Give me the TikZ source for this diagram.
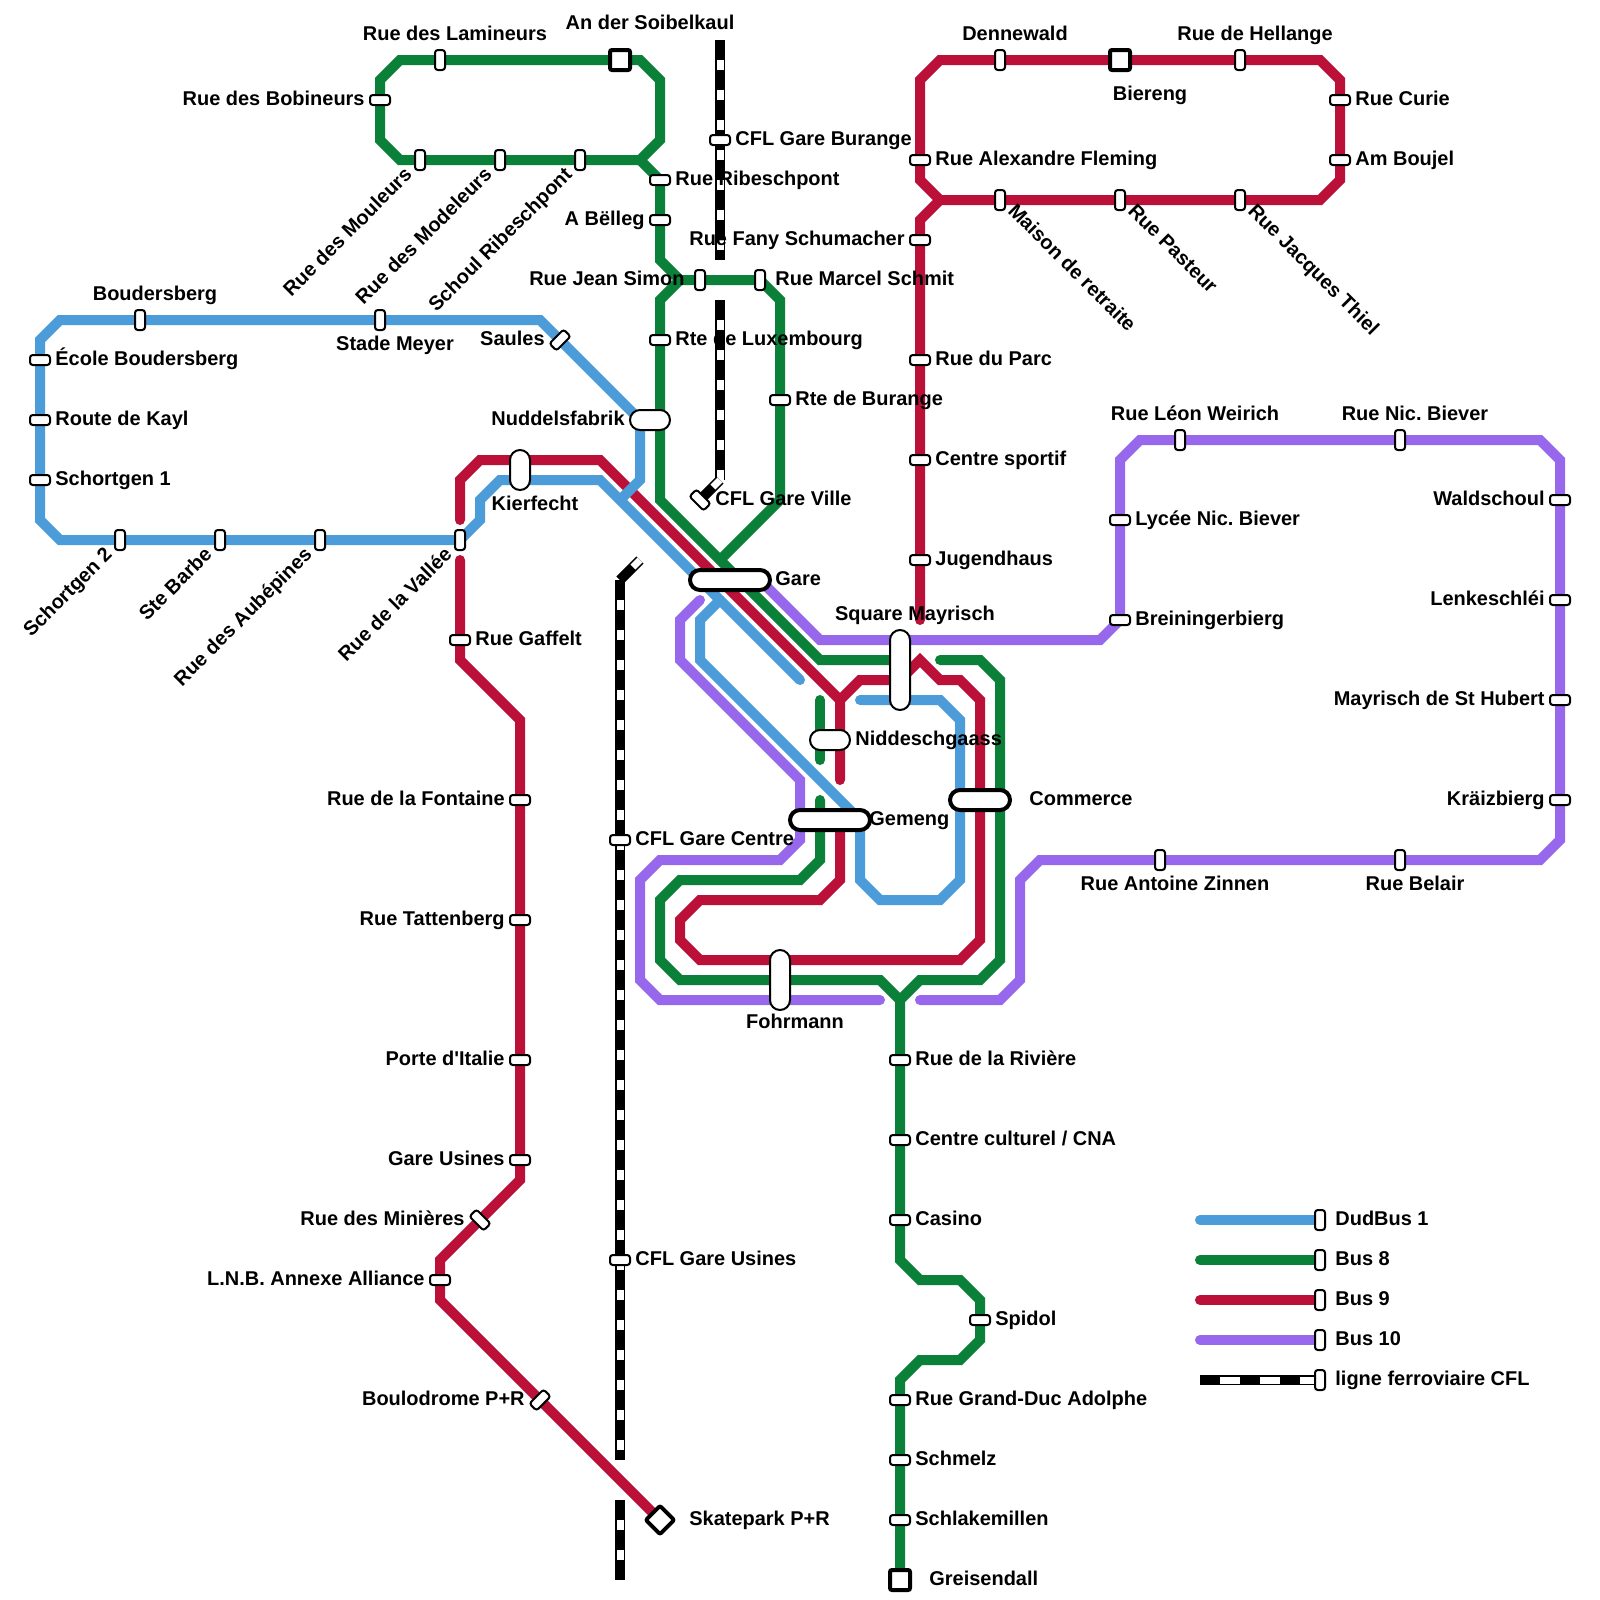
\documentclass[tikz,border=0pt]{standalone}
\usepackage{fontspec}
\setmainfont{Liberation Sans}[Ligatures=TeXOff]
\frenchspacing
\definecolor{dudbus}{HTML}{4B9CD8}
\definecolor{buseight}{HTML}{0A8038}
\definecolor{busnine}{HTML}{BB1038}
\definecolor{busten}{HTML}{9868EC}
\tikzset{
  busline/.style={line width=.25cm,line cap=round},
  rail/.style={line width=.25cm,black,postaction={draw,white,line width=.175cm,dash pattern=on .25cm off .5cm,dash phase=.25cm}},
  railtip/.style={line width=.25cm,black,postaction={draw,white,line width=.175cm,dash pattern=on .25cm off .5cm}},
  raillegend/.style={line width=.25cm,black,postaction={draw,white,line width=.175cm,dash pattern=on .5cm off .5cm,dash phase=.5cm}},
  stoph/.style={draw,fill=white,line width=.05cm,minimum width=.5cm,minimum height=.25cm,rounded corners=.07cm,inner sep=0,outer sep=0},
  stopv/.style={stoph,minimum width=.25cm,minimum height=.5cm},
  hubh/.style={draw,fill=white,line width=.05cm,minimum height=.5cm,rounded corners=.25cm,inner sep=0,outer sep=0},
  hubv/.style={draw,fill=white,line width=.05cm,minimum width=.5cm,rounded corners=.25cm,inner sep=0,outer sep=0},
  bighub/.style={hubh,line width=.1cm},
  endstop/.style={draw,fill=white,line width=.1cm,minimum size=.5cm,rounded corners=.05cm,inner sep=0,outer sep=0},
  lbl/.style={font=\fontsize{14.2pt}{16pt}\selectfont\bfseries,inner sep=0,outer sep=0},
  lblr/.style={lbl,anchor=base west,xshift=.385cm,yshift=-.125cm},
  lbll/.style={lbl,anchor=base east,xshift=-.385cm,yshift=-.125cm},
  lbla/.style={lbl,anchor=base,xshift=.375cm,yshift=.5cm},
  lblb/.style={lbl,anchor=base,xshift=.375cm,yshift=-.75cm},
  lblup/.style={lbl,anchor=base east,xshift=-.175cm,yshift=-.4cm,rotate=45},
  lbldn/.style={lbl,anchor=base west,xshift=.175cm,yshift=-.3cm,rotate=-45},
}
\begin{document}
\begin{tikzpicture}[x=.5cm,y=-.5cm]
  \path[use as bounding box,fill=white] (0,0) rectangle (80,80);
  % bus 9
  \draw[busline,busnine] (33,76) -- (22,65) -- (22,63) -- (26,59) -- (26,36) -- (23,33) -- (23,28);
  \draw[busline,busnine] (23,26) -- (23,24) -- (24,23) -- (30,23) -- (42,35) -- (42,39);
  \draw[busline,busnine] (42,41) -- (42,44) -- (41,45) -- (35,45) -- (34,46) -- (34,47) -- (35,48) -- (48,48) -- (49,47) -- (49,35) -- (48,34) -- (47,34) -- (46,33) -- (45,34) -- (43,34) -- (42,35);
  \draw[busline,busnine] (47,3) -- (66,3) -- (67,4) -- (67,9) -- (66,10) -- (47,10) -- (46,9) -- (46,4) -- cycle;
  \draw[busline,busnine] (47,10) -- (46,11) -- (46,31);
  % bus 8
  \draw[busline,buseight] (20,3) -- (32,3) -- (33,4) -- (33,7) -- (32,8) -- (20,8) -- (19,7) -- (19,4) -- cycle;
  \draw[busline,buseight] (32,8) -- (33,9) -- (33,13) -- (34,14) -- (38,14) -- (39,15) -- (39,25) -- (36,28);
  \draw[busline,buseight] (34,14) -- (33,15) -- (33,25) -- (41,33) -- (45,33);
  \draw[busline,buseight] (47,33) -- (49,33) -- (50,34) -- (50,48) -- (49,49) -- (46,49) -- (45,50) -- (45,63) -- (46,64) -- (48,64) -- (49,65) -- (49,67) -- (48,68) -- (46,68) -- (45,69) -- (45,79);
  \draw[busline,buseight] (45,50) -- (44,49) -- (34,49) -- (33,48) -- (33,45) -- (34,44) -- (40,44) -- (41,43) -- (41,40);
  \draw[busline,buseight] (41,35) -- (41,38);
  % bus 10
  \draw[busline,busten] (44,50) -- (33,50) -- (32,49) -- (32,44) -- (33,43) -- (39,43) -- (40,42) -- (40,39) -- (34,33) -- (34,31) -- (35,30);
  \draw[busline,busten] (46,50) -- (50,50) -- (51,49) -- (51,44) -- (52,43) -- (77,43) -- (78,42) -- (78,23) -- (77,22) -- (57,22) -- (56,23) -- (56,31) -- (55,32) -- (41,32) -- (38,29);
  % dudbus
  \draw[busline,dudbus] (31,25) -- (32,24) -- (32,21) -- (27,16) -- (3,16) -- (2,17) -- (2,26) -- (3,27) -- (23,27) -- (24,26) -- (24,25) -- (25,24) -- (30,24) -- (40,34);
  \draw[busline,dudbus] (36,30) -- (35,31) -- (35,33) -- (43,41) -- (43,44) -- (44,45) -- (47,45) -- (48,44) -- (48,36) -- (47,35) -- (43,35);
  % rail
  \draw[rail] (36,2) -- (36,13);
  \draw[rail] (36,15) -- (36,24);
  \draw[railtip] (36,24) -- (35,25);
  \draw[railtip] (32,28) -- (31,29);
  \draw[rail] (31,29) -- (31,73);
  \draw[rail] (31,75) -- (31,79);
  % legend
  \draw[busline,dudbus] (60,61) -- (66,61);
  \draw[busline,buseight] (60,63) -- (66,63);
  \draw[busline,busnine] (60,65) -- (66,65);
  \draw[busline,busten] (60,67) -- (66,67);
  \draw[raillegend] (60,69) -- (66,69);
  % stops
  \node[stopv] (lamineurs) at (22,3) {};
  \node[endstop] (soibelkaul) at (31,3) {};
  \node[stoph] (bobineurs) at (19,5) {};
  \node[stopv] (mouleurs) at (21,8) {};
  \node[stopv] (modeleurs) at (25,8) {};
  \node[stopv] (ribeschpont) at (29,8) {};
  \node[stoph] (rueribesch) at (33,9) {};
  \node[stoph] (bellleg) at (33,11) {};
  \node[stopv] (jeansimon) at (35,14) {};
  \node[stopv] (marcelschmit) at (38,14) {};
  \node[stoph] (luxembourg) at (33,17) {};
  \node[stoph] (burange) at (39,20) {};
  \node[stoph] (riviere) at (45,53) {};
  \node[stoph] (cna) at (45,57) {};
  \node[stoph] (casino) at (45,61) {};
  \node[stoph] (spidol) at (49,66) {};
  \node[stoph] (grandduc) at (45,70) {};
  \node[stoph] (schmelz) at (45,73) {};
  \node[stoph] (schlake) at (45,76) {};
  \node[endstop] (greisendall) at (45,79) {};
  \node[stoph] (garebur) at (36,7) {};
  \node[stoph,rotate=-45] (gareville) at (35,25) {};
  \node[stoph] (garecentre) at (31,42) {};
  \node[stoph] (gareusines) at (31,63) {};
  \node[stopv] (boudersberg) at (7,16) {};
  \node[stopv] (stademeyer) at (19,16) {};
  \node[stoph,rotate=45] (saules) at (28,17) {};
  \node[stoph] (ecole) at (2,18) {};
  \node[stoph] (kayl) at (2,21) {};
  \node[stoph] (schortgenone) at (2,24) {};
  \node[stopv] (schortgentwo) at (6,27) {};
  \node[stopv] (stebarbe) at (11,27) {};
  \node[stopv] (aubepines) at (16,27) {};
  \node[stopv] (vallee) at (23,27) {};
  \node[stoph] (gaffelt) at (23,32) {};
  \node[stoph] (fontaine) at (26,40) {};
  \node[stoph] (tattenberg) at (26,46) {};
  \node[stoph] (italie) at (26,53) {};
  \node[stoph] (garuse) at (26,58) {};
  \node[stoph,rotate=-45] (minieres) at (24,61) {};
  \node[stoph] (lnb) at (22,64) {};
  \node[stoph,rotate=45] (boulodrome) at (27,70) {};
  \node[endstop,rotate=45] (skatepark) at (33,76) {};
  \node[stopv] (dennewald) at (50,3) {};
  \node[endstop] (biereng) at (56,3) {};
  \node[stopv] (hellange) at (62,3) {};
  \node[stoph] (curie) at (67,5) {};
  \node[stoph] (boujel) at (67,8) {};
  \node[stoph] (fleming) at (46,8) {};
  \node[stopv] (retraite) at (50,10) {};
  \node[stopv] (pasteur) at (56,10) {};
  \node[stopv] (thiel) at (62,10) {};
  \node[stoph] (fany) at (46,12) {};
  \node[stoph] (parc) at (46,18) {};
  \node[stoph] (sportif) at (46,23) {};
  \node[stoph] (jugendhaus) at (46,28) {};
  \node[stopv] (weirich) at (59,22) {};
  \node[stopv] (biever) at (70,22) {};
  \node[stoph] (lycee) at (56,26) {};
  \node[stoph] (breininger) at (56,31) {};
  \node[stoph] (waldschoul) at (78,25) {};
  \node[stoph] (lenkeschlei) at (78,30) {};
  \node[stoph] (sthubert) at (78,35) {};
  \node[stoph] (kraizbierg) at (78,40) {};
  \node[stopv] (zinnen) at (58,43) {};
  \node[stopv] (belair) at (70,43) {};
  % hubs
  \node[hubh,minimum width=1cm] (nuddels) at (32.5,21) {};
  \node[hubv,minimum height=1cm] (kierfecht) at (26,23.5) {};
  \node[bighub,minimum width=2cm] (gare) at (36.5,29) {};
  \node[hubv,minimum height=2cm] (mayrisch) at (45,33.5) {};
  \node[hubh,minimum width=1cm] (niddesch) at (41.5,37) {};
  \node[bighub,minimum width=2cm] (gemeng) at (41.5,41) {};
  \node[bighub,minimum width=1.5cm] (commerce) at (49,40) {};
  \node[hubv,minimum height=1.5cm] (fohrmann) at (39,49) {};
  % legend stops
  \node[stopv] (keydud) at (66,61) {};
  \node[stopv] (keyeight) at (66,63) {};
  \node[stopv] (keynine) at (66,65) {};
  \node[stopv] (keyten) at (66,67) {};
  \node[stopv] (keyrail) at (66,69) {};
  % labels
  \node[lbla] (lamineurs-t) at (lamineurs) {Rue des Lamineurs};
  \node[lbla] (soibelkaul-t) at (31.75,2.45) {An der Soibelkaul};
  \node[lbll] (bobineurs-t) at (bobineurs) {Rue des Bobineurs};
  \node[lblup] (mouleurs-t) at (mouleurs) {Rue des Mouleurs};
  \node[lblup] (modeleurs-t) at (modeleurs) {Rue des Modeleurs};
  \node[lblup] (ribeschpont-t) at (ribeschpont) {Schoul Ribeschpont};
  \node[lblr] (rueribesch-t) at (rueribesch) {Rue Ribeschpont};
  \node[lbll] (bellleg-t) at (bellleg) {A Bëlleg};
  \node[lbll] (jeansimon-t) at (jeansimon) {Rue Jean Simon};
  \node[lblr] (marcelschmit-t) at (marcelschmit) {Rue Marcel Schmit};
  \node[lblr] (luxembourg-t) at (luxembourg) {Rte de Luxembourg};
  \node[lblr] (burange-t) at (burange) {Rte de Burange};
  \node[lblr] (riviere-t) at (riviere) {Rue de la Rivière};
  \node[lblr] (cna-t) at (cna) {Centre culturel / CNA};
  \node[lblr] (casino-t) at (casino) {Casino};
  \node[lblr] (spidol-t) at (spidol) {Spidol};
  \node[lblr] (grandduc-t) at (grandduc) {Rue Grand-Duc Adolphe};
  \node[lblr] (schmelz-t) at (schmelz) {Schmelz};
  \node[lblr] (schlake-t) at (schlake) {Schlakemillen};
  \node[lblr] (greisendall-t) at (45.7,79) {Greisendall};
  \node[lblr] (garebur-t) at (garebur) {CFL Gare Burange};
  \node[lblr] (gareville-t) at (gareville) {CFL Gare Ville};
  \node[lblr] (garecentre-t) at (garecentre) {CFL Gare Centre};
  \node[lblr] (gareusines-t) at (gareusines) {CFL Gare Usines};
  \node[lbla] (boudersberg-t) at (boudersberg) {Boudersberg};
  \node[lblb] (stademeyer-t) at (stademeyer) {Stade Meyer};
  \node[lbll] (saules-t) at (saules) {Saules};
  \node[lblr] (ecole-t) at (ecole) {École Boudersberg};
  \node[lblr] (kayl-t) at (kayl) {Route de Kayl};
  \node[lblr] (schortgenone-t) at (schortgenone) {Schortgen 1};
  \node[lblup] (schortgentwo-t) at (schortgentwo) {Schortgen 2};
  \node[lblup] (stebarbe-t) at (stebarbe) {Ste Barbe};
  \node[lblup] (aubepines-t) at (aubepines) {Rue des Aubépines};
  \node[lblup] (vallee-t) at (vallee) {Rue de la Vallée};
  \node[lblr] (gaffelt-t) at (gaffelt) {Rue Gaffelt};
  \node[lbll] (fontaine-t) at (fontaine) {Rue de la Fontaine};
  \node[lbll] (tattenberg-t) at (tattenberg) {Rue Tattenberg};
  \node[lbll] (italie-t) at (italie) {Porte d'Italie};
  \node[lbll] (garuse-t) at (garuse) {Gare Usines};
  \node[lbll] (minieres-t) at (minieres) {Rue des Minières};
  \node[lbll] (lnb-t) at (lnb) {L.N.B. Annexe Alliance};
  \node[lbll] (boulodrome-t) at (boulodrome) {Boulodrome P+R};
  \node[lblr] (skatepark-t) at (33.7,76) {Skatepark P+R};
  \node[lbla] (dennewald-t) at (dennewald) {Dennewald};
  \node[lblb] (biereng-t) at (56.75,3.5) {Biereng};
  \node[lbla] (hellange-t) at (hellange) {Rue de Hellange};
  \node[lblr] (curie-t) at (curie) {Rue Curie};
  \node[lblr] (boujel-t) at (boujel) {Am Boujel};
  \node[lblr] (fleming-t) at (fleming) {Rue Alexandre Fleming};
  \node[lbldn] (retraite-t) at (retraite) {Maison de retraite};
  \node[lbldn] (pasteur-t) at (pasteur) {Rue Pasteur};
  \node[lbldn] (thiel-t) at (thiel) {Rue Jacques Thiel};
  \node[lbll] (fany-t) at (fany) {Rue Fany Schumacher};
  \node[lblr] (parc-t) at (parc) {Rue du Parc};
  \node[lblr] (sportif-t) at (sportif) {Centre sportif};
  \node[lblr] (jugendhaus-t) at (jugendhaus) {Jugendhaus};
  \node[lbla] (weirich-t) at (weirich) {Rue Léon Weirich};
  \node[lbla] (biever-t) at (biever) {Rue Nic. Biever};
  \node[lblr] (lycee-t) at (lycee) {Lycée Nic. Biever};
  \node[lblr] (breininger-t) at (breininger) {Breiningerbierg};
  \node[lbll] (waldschoul-t) at (waldschoul) {Waldschoul};
  \node[lbll] (lenkeschlei-t) at (lenkeschlei) {Lenkeschléi};
  \node[lbll] (sthubert-t) at (sthubert) {Mayrisch de St Hubert};
  \node[lbll] (kraizbierg-t) at (kraizbierg) {Kräizbierg};
  \node[lblb] (zinnen-t) at (zinnen) {Rue Antoine Zinnen};
  \node[lblb] (belair-t) at (belair) {Rue Belair};
  \node[lbll] (nuddels-t) at (32,21) {Nuddelsfabrik};
  \node[lblb] (kierfecht-t) at (26,24) {Kierfecht};
  \node[lblr] (gare-t) at (38,29) {Gare};
  \node[lbla] (mayrisch-t) at (45,32) {Square Mayrisch};
  \node[lblr] (niddesch-t) at (42,37) {Niddeschgaass};
  \node[lblr] (gemeng-t) at (42.7,41) {Gemeng};
  \node[lblr] (commerce-t) at (50.7,40) {Commerce};
  \node[lblb] (fohrmann-t) at (39,49.9) {Fohrmann};
  \node[lblr] (keydud-t) at (keydud) {DudBus 1};
  \node[lblr] (keyeight-t) at (keyeight) {Bus 8};
  \node[lblr] (keynine-t) at (keynine) {Bus 9};
  \node[lblr] (keyten-t) at (keyten) {Bus 10};
  \node[lblr] (keyrail-t) at (keyrail) {ligne ferroviaire CFL};
\end{tikzpicture}
\end{document}
